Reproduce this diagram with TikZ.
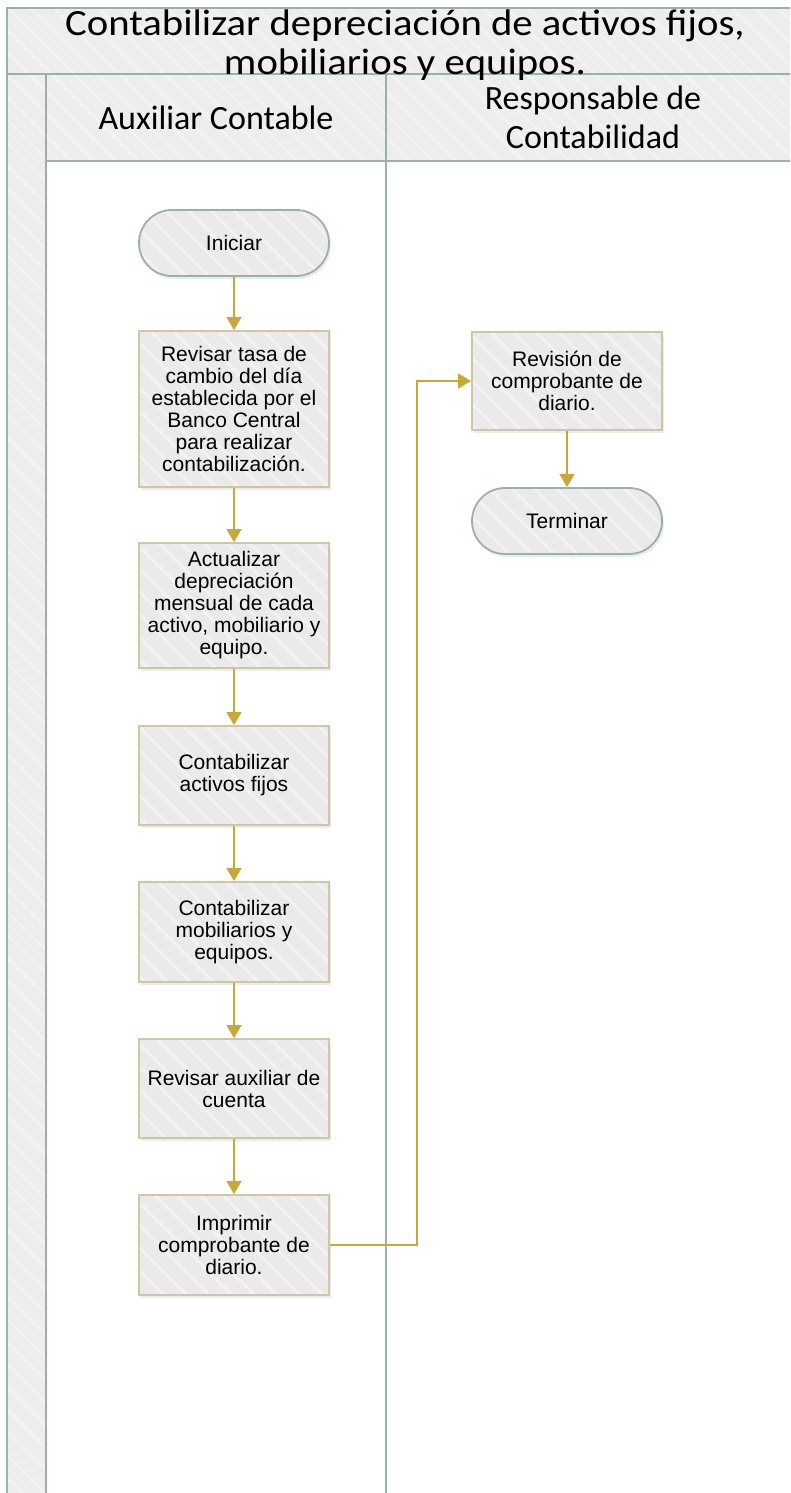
\documentclass[tikz,border=0pt]{standalone}
\usepackage{fontspec}
\setmainfont{Liberation Sans}
\newfontfamily\lanefont{Carlito}
\newfontfamily\poolfont[FakeStretch=1.1]{Carlito}
\usetikzlibrary{arrows.meta,patterns.meta,shadows}

\definecolor{laneline}{HTML}{9BB0A8}
\definecolor{lanefill}{HTML}{EDEDED}
\definecolor{hatch}{HTML}{F2F2F2}
\definecolor{boxfill}{HTML}{EAEAEA}
\definecolor{boxline}{HTML}{CFC6A3}
\definecolor{flowline}{HTML}{C9A83B}

\begin{document}
\begin{tikzpicture}[x=1pt,y=-1pt,
  stripes/.style={preaction={fill=#1}, preaction={pattern={Lines[angle=-45,distance=16pt,line width=3pt]}, pattern color=hatch}},
  lane/.style={draw=laneline, line width=2.2pt},
  lanetitle/.style={font=\lanefont\fontsize{34}{39}\selectfont, align=center, inner sep=0pt},
  task/.style={drop shadow={shadow xshift=2pt, shadow yshift=-3pt, opacity=0.15},
    stripes=boxfill, draw=boxline, line width=1.8pt, minimum width=190pt, minimum height=#1,
    inner sep=0pt, align=center, font=\fontsize{21}{22}\selectfont},
  terminal/.style={drop shadow={shadow xshift=2pt, shadow yshift=-3pt, opacity=0.15},
    stripes=boxfill, draw=laneline, line width=1.8pt, rounded corners=32.9pt,
    minimum width=190pt, minimum height=66pt, inner sep=0pt, font=\fontsize{21}{22}\selectfont},
  flow/.style={draw=flowline, line width=1.3pt, -{Triangle[length=13pt,width=15pt]}}]
  \useasboundingbox (0,0) rectangle (790,1493);
  \clip (0,0) rectangle (790,1493);

  % Pool frame, lane headers and side strip
  \path[stripes=lanefill] (7,8) rectangle (800,161);
  \path[stripes=lanefill] (7,161) rectangle (46,1500);
  \draw[lane] (7,1500) -- (7,8) -- (800,8);
  \draw[lane] (7,74) -- (800,74);
  \draw[lane] (46,161) -- (800,161);
  \draw[lane] (46,74) -- (46,1500);
  \draw[lane] (386,74) -- (386,1500);

  \node[lanetitle, font=\poolfont\fontsize{37}{39}\selectfont] (proceso) at (405,45) {Contabilizar depreciación de activos fijos,\\mobiliarios y equipos.};
  \node[lanetitle, anchor=base] (auxiliar) at (216,129) {Auxiliar Contable};
  \node[lanetitle] (responsable) at (593,117) {Responsable de\\Contabilidad};

  % Auxiliar Contable
  \node[terminal] (inicio) at (234,243) {Iniciar};
  \node[task=156pt] (revtasa) at (234,409) {Revisar tasa de\\cambio del día\\establecida por el\\Banco Central\\para realizar\\contabilización.};
  \node[task=125pt] (actdep) at (234,605.5) {Actualizar\\depreciación\\mensual de cada\\activo, mobiliario y\\equipo.};
  \node[task=99pt] (contact) at (234,775.5) {Contabilizar\\activos fijos};
  \node[task=100pt] (contmob) at (234,932) {Contabilizar\\mobiliarios y\\equipos.};
  \node[task=99pt] (revaux) at (234,1088.5) {Revisar auxiliar de\\cuenta};
  \node[task=100pt] (imprimir) at (234,1245) {Imprimir\\comprobante de\\diario.};

  % Responsable de Contabilidad
  \node[task=98pt] (revision) at (567,381) {Revisión de\\comprobante de\\diario.};
  \node[terminal] (fin) at (567,521) {Terminar};

  % Flow
  \draw[flow] (inicio) -- (revtasa);
  \draw[flow] (revtasa) -- (actdep);
  \draw[flow] (actdep) -- (contact);
  \draw[flow] (contact) -- (contmob);
  \draw[flow] (contmob) -- (revaux);
  \draw[flow] (revaux) -- (imprimir);
  \draw[flow] (imprimir.east) -- +(87,0) |- (revision.west);
  \draw[flow] (revision) -- (fin);
\end{tikzpicture}
\end{document}
